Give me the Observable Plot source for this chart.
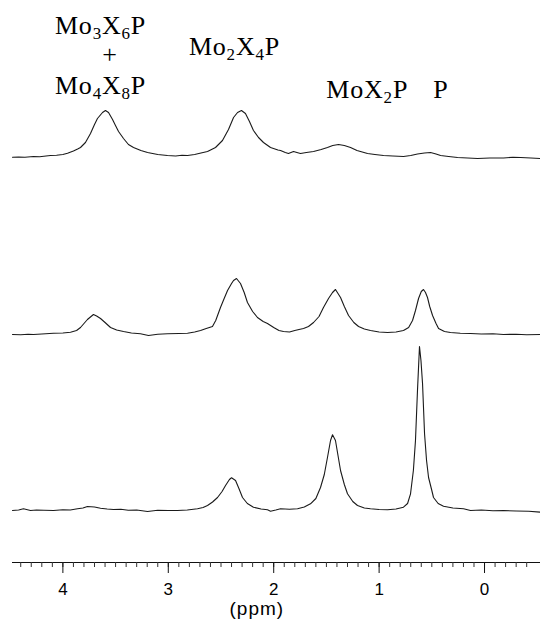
<!DOCTYPE html>
<html><head><meta charset="utf-8">
<script src="https://cdn.jsdelivr.net/npm/d3@7"></script>
<script src="https://cdn.jsdelivr.net/npm/@observablehq/plot@0.6"></script>
<style>body{margin:0;background:#fff} svg{display:block}</style>
</head><body><div id="chart"></div>
<script>
// Three stacked 31P NMR spectra: [chemical shift (ppm), intensity above own baseline]
const traceNames = ["top", "middle", "bottom"];
const traceOffsets = [353, 176, 0];

const spectrumTop = [[4.478,0.3],[4.42,0.5],[4.36,0.2],[4.279,1],[4.22,0.8],[4.16,1.5],[4.118,2],[4.06,2.3],[4.0,3],[3.956,4.3],[3.90,6.5],[3.86,8.5],[3.833,10],[3.786,15],[3.738,24],[3.70,33],[3.672,39],[3.624,45],[3.596,47],[3.567,45],[3.529,38],[3.501,32],[3.472,26],[3.425,19],[3.378,13],[3.330,10],[3.26,7],[3.197,5],[3.10,3],[3.008,2],[2.93,1.5],[2.87,2.2],[2.818,2],[2.75,3],[2.69,4.5],[2.628,6],[2.552,10],[2.486,17],[2.429,28],[2.381,40],[2.343,45],[2.306,47],[2.268,44],[2.230,36],[2.192,27],[2.144,20],[2.097,15],[2.030,10],[1.96,7.5],[1.935,7],[1.89,5],[1.860,4],[1.812,6],[1.78,5],[1.746,4],[1.69,5],[1.622,6],[1.55,8],[1.490,10],[1.44,12],[1.385,13],[1.33,12],[1.271,10],[1.21,7],[1.16,5.5],[1.110,4],[1.04,3],[0.958,2],[0.87,1.5],[0.769,1],[0.70,2],[0.636,3.5],[0.57,4.5],[0.512,5],[0.46,3.5],[0.417,2],[0.34,1],[0.256,0],[0.16,-0.5],[0.066,-1],[-0.05,-0.5],[-0.180,-0.5],[-0.27,0.3],[-0.342,0],[-0.44,-0.5],[-0.531,-1]];

const spectrumMiddle = [[4.478,0],[4.40,-0.3],[4.33,0.3],[4.279,0],[4.20,0.5],[4.089,1.3],[4.00,1.5],[3.928,2.3],[3.87,4],[3.833,7],[3.80,11],[3.767,15],[3.710,20],[3.68,18.5],[3.643,16],[3.60,12],[3.548,7],[3.49,4.5],[3.425,3],[3.35,1.5],[3.264,0.7],[3.188,-1],[3.10,0.2],[3.008,0.7],[2.90,1],[2.818,1.3],[2.75,2.5],[2.694,4],[2.64,6],[2.581,8],[2.55,14],[2.505,27],[2.47,36],[2.438,44],[2.40,51],[2.381,54],[2.353,56],[2.315,51],[2.28,42],[2.249,32],[2.20,23],[2.154,17],[2.10,13],[2.059,11],[2.00,7],[1.95,4],[1.907,3],[1.85,2.5],[1.80,4],[1.76,5],[1.717,6],[1.67,8],[1.622,12],[1.57,18],[1.528,27],[1.48,36],[1.442,42],[1.414,45],[1.366,37],[1.33,28],[1.290,19],[1.24,12],[1.195,8],[1.14,5.5],[1.082,4],[1.00,2.5],[0.920,2],[0.84,2.5],[0.769,4],[0.72,7],[0.683,14],[0.655,24],[0.626,36],[0.60,43],[0.579,45],[0.56,42],[0.541,37],[0.52,28],[0.493,19],[0.46,11],[0.436,6],[0.38,3],[0.323,2],[0.23,1.2],[0.133,1],[0.03,0.5],[-0.08,0.7],[-0.180,0],[-0.30,0.3],[-0.40,-0.3],[-0.531,0]];

const spectrumBottom = [[4.478,0],[4.42,0.5],[4.374,1.7],[4.307,0],[4.25,0.5],[4.18,0.2],[4.089,0],[4.0,0.8],[3.93,0.5],[3.861,1.7],[3.81,2.5],[3.767,4],[3.70,3.5],[3.643,2.3],[3.58,1.5],[3.520,1],[3.45,1.3],[3.38,0.3],[3.30,0.5],[3.197,-1],[3.10,0.3],[3.00,0],[2.913,0],[2.82,0.5],[2.723,1.7],[2.67,3],[2.628,5],[2.58,8.5],[2.533,13],[2.49,19],[2.457,25],[2.42,31],[2.400,32.7],[2.362,30],[2.33,22],[2.296,13],[2.25,7],[2.192,3.3],[2.12,1.5],[2.059,0.7],[2.030,-0.7],[1.98,0.5],[1.935,1.7],[1.85,1.2],[1.774,1.7],[1.71,3.5],[1.651,6.7],[1.60,12],[1.556,23],[1.52,36],[1.490,53],[1.461,70],[1.442,75.7],[1.414,70],[1.39,55],[1.366,40],[1.33,26],[1.300,16.7],[1.25,9],[1.205,5],[1.14,2.5],[1.082,1.7],[1.00,1],[0.920,0.7],[0.84,1.5],[0.769,3.3],[0.73,7],[0.702,16.7],[0.675,40],[0.655,70],[0.636,120],[0.617,164],[0.603,150],[0.588,126.7],[0.569,76.7],[0.55,50],[0.531,33],[0.50,20],[0.484,13],[0.44,7],[0.389,4.3],[0.30,2.5],[0.199,1.7],[0.133,0],[0.03,0.5],[-0.08,-0.3],[-0.180,0],[-0.30,-0.5],[-0.42,-0.8],[-0.531,-1.7]];

// Peak labels
const labelText = ["Mo_3X_6P", "+", "Mo_4X_8P", "Mo_2X_4P", "MoX_2P", "P"];
const labelPpm = [3.643, 3.558, 3.643, 2.372, 1.113, 0.417];
const labelLevel = [477, 448, 417, 456, 413, 413];

// Axis
const majorTicks = [4, 3, 2, 1, 0];
const minorTicks = d3.range(44, -5, -1).map(d => d / 10);
const axisTitle = "(ppm)";
const axisTitlePpm = 2.16;

const spectra = [spectrumTop, spectrumMiddle, spectrumBottom];
const rows = [];
spectra.forEach((s, i) => s.forEach(([ppm, v]) => rows.push({trace: traceNames[i], ppm, v: v + traceOffsets[i]})));
const labels = labelText.map((t, i) => ({text: t, ppm: labelPpm[i], v: labelLevel[i]}));

const chart = Plot.plot({
  width: 540, height: 622,
  marginLeft: 12, marginRight: 0, marginTop: 0, marginBottom: 60,
  x: {domain: [4.478, -0.531]},
  y: {domain: [-52, 510], axis: null},
  style: {fontFamily: "Liberation Sans", fontSize: "17px", color: "black", background: "white"},
  marks: [
    Plot.frame({anchor: "bottom", stroke: "#111"}),
    Plot.axisX({ticks: minorTicks, tickSize: 5, tickFormat: () => "", label: null, stroke: "#333"}),
    Plot.axisX({ticks: majorTicks, tickSize: 11, tickPadding: 9, tickFormat: d3.format("d"), label: null, fontSize: 17, stroke: "#111"}),
    Plot.text([axisTitle], {x: [axisTitlePpm], frameAnchor: "bottom", dy: 52, fontSize: 19, fill: "black"}),
    Plot.line(rows, {x: "ppm", y: "v", z: "trace", stroke: "#1a1a1a", strokeWidth: 1.1}),
    Plot.text(labels, {x: "ppm", y: "v", text: "text", fontFamily: "Liberation Serif", fontSize: 26, lineAnchor: "bottom", textAnchor: "middle", fill: "black"})
  ]
});

// Letter spacing for title/labels
chart.querySelectorAll("text").forEach(t => {
  if (t.textContent === axisTitle) t.setAttribute("letter-spacing", "1");
});

// Render subscripts as tspans
const ns = "http://www.w3.org/2000/svg";
chart.querySelectorAll("text").forEach(t => {
  const s = t.textContent;
  if (!s.includes("_")) return;
  t.textContent = "";
  t.setAttribute("letter-spacing", "0.8");
  const parts = s.split(/_(\d)/);
  let shifted = false;
  parts.forEach((p, i) => {
    if (!p) return;
    const ts = document.createElementNS(ns, "tspan");
    ts.textContent = p;
    if (i % 2 === 1) { ts.setAttribute("font-size", "17"); ts.setAttribute("dy", "5"); shifted = true; }
    else if (shifted) { ts.setAttribute("dy", "-5"); shifted = false; }
    t.appendChild(ts);
  });
});
document.getElementById("chart").appendChild(chart);
</script>
</body></html>
